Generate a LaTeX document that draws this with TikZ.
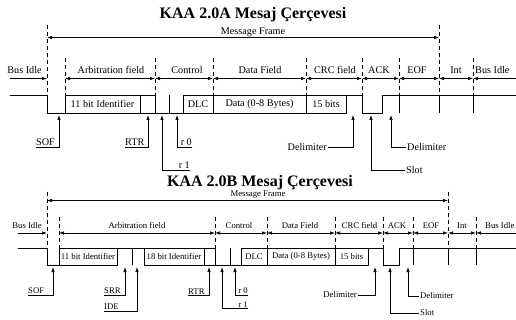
\documentclass[tikz,border=0pt]{standalone}
\usepackage{fontspec}
\setmainfont{Liberation Serif}
\usetikzlibrary{arrows.meta}
\begin{document}
\begin{tikzpicture}[x=1pt,y=-1pt,
  sig/.style={line width=0.8pt, black},
  dsh/.style={line width=0.7pt, black, dash pattern=on 4pt off 3pt},
  fld/.style={line width=0.7pt, {Latex[length=5pt,width=3.5pt]}-{Latex[length=5pt,width=3.5pt]}},
  fldend/.style={line width=0.7pt, -{Latex[length=5pt,width=3.5pt]}},
  fldstart/.style={line width=0.7pt, {Latex[length=5pt,width=3.5pt]}-},
  ptr/.style={line width=0.7pt, -{Latex[length=5pt,width=3.5pt]}},
  ta/.style={font=\fontsize{10.2}{12}\selectfont, inner xsep=0pt, inner ysep=0.8pt},
  tb/.style={font=\fontsize{8.7}{10}\selectfont, inner xsep=0pt, inner ysep=0.8pt},
  ttl/.style={font=\fontsize{16}{19}\selectfont\bfseries, inner sep=0pt}]
\useasboundingbox (0,0) rectangle (516,320);

% ===================== 2.0A =====================
\node[ttl, anchor=base] (titleA) at (253,18.5) {KAA 2.0A Mesaj Çerçevesi};

% message frame
\coordinate (mfA1) at (47,37.5);
\coordinate (mfA2) at (439,37.5);
\draw[fld] (mfA1) -- (mfA2);
\node[ta, anchor=base] (mfAt) at (253,34.5) {Message Frame};

% dashed boundaries
\draw[dsh] (47,25) -- (47,95);
\draw[dsh] (439,25) -- (439,95);
\foreach \x in {65,155,213,306,362,399,473} \draw[dsh] (\x,58) -- (\x,95);

% field arrows
\coordinate (fA0) at (10,78.5);
\coordinate (fA1) at (47,78.5);
\coordinate (fA2) at (65,78.5);
\coordinate (fA3) at (155,78.5);
\coordinate (fA4) at (213,78.5);
\coordinate (fA5) at (306,78.5);
\coordinate (fA6) at (362,78.5);
\coordinate (fA7) at (399,78.5);
\coordinate (fA8) at (439,78.5);
\coordinate (fA9) at (473,78.5);
\coordinate (fA10) at (516,78.5);
\draw[fldend] (fA0) -- (fA1);
\draw[fld] (fA2) -- (fA3);
\draw[fld] (fA3) -- (fA4);
\draw[fld] (fA4) -- (fA5);
\draw[fld] (fA5) -- (fA6);
\draw[fld] (fA6) -- (fA7);
\draw[fld] (fA7) -- (fA8);
\draw[fld] (fA8) -- (fA9);
\draw[fldstart] (fA9) -- (fA10);

\node[ta, anchor=base] (lA0) at (24.5,74) {Bus Idle};
\node[ta, anchor=base] (lA1) at (111,74) {Arbitration field};
\node[ta, anchor=base] (lA2) at (187,74) {Control};
\node[ta, anchor=base] (lA3) at (260,74) {Data Field};
\node[ta, anchor=base] (lA4) at (335,74) {CRC field};
\node[ta, anchor=base] (lA5) at (379,74) {ACK};
\node[ta, anchor=base] (lA6) at (417,74) {EOF};
\node[ta, anchor=base] (lA7) at (456,74) {Int};
\node[ta, anchor=base west] (lA8) at (475,74) {Bus Idle};

% signal
\draw[sig] (10,95) -- (47,95) -- (47,113) -- (346,113) -- (346,95) -- (362,95)
  -- (362,113) -- (382,113) -- (382,95) -- (516,95);
\draw[sig] (65,95) -- (155,95);
\draw[sig] (183,95) -- (346,95);
\foreach \x in {65,140,155,169,183,213,306,399,439,473} \draw[sig] (\x,95) -- (\x,113);

\node[ta] (bA1) at (102.5,104) {11 bit Identifier};
\node[ta] (bA2) at (198,104) {DLC};
\node[ta] (bA3) at (259.5,104) {Data (0-8 Bytes)};
\node[ta] (bA4) at (326,104) {15 bits};

% pointers
\coordinate (tA1) at (59,115);
\coordinate (tA2) at (148,115);
\coordinate (tA3) at (162,115);
\coordinate (tA4) at (177,115);
\coordinate (tA5) at (353,115);
\coordinate (tA6) at (371,115);
\coordinate (tA7) at (391,115);
\node[ta, anchor=south west] (sofA) at (36,147) {SOF};
\node[ta, anchor=south west] (rtrA) at (125,147) {RTR};
\node[ta, anchor=south east] (r1A) at (190,170) {r 1};
\node[ta, anchor=south east] (r0A) at (192,147) {r 0};
\node[ta, anchor=east, inner xsep=1pt] (dlA1) at (328,147) {Delimiter};
\node[ta, anchor=west, inner xsep=1pt] (slotA) at (405,170) {Slot};
\node[ta, anchor=west, inner xsep=1pt] (dlA2) at (406,147) {Delimiter};
\draw[ptr] (sofA.south west) -| (tA1);
\draw[ptr] (rtrA.south west) -| (tA2);
\draw[ptr] (r1A.south east) -| (tA3);
\draw[ptr] (r0A.south east) -| (tA4);
\draw[ptr] (dlA1.east) -| (tA5);
\draw[ptr] (slotA.west) -| (tA6);
\draw[ptr] (dlA2.west) -| (tA7);

% ===================== 2.0B =====================
\node[ttl, anchor=base] (titleB) at (260,187) {KAA 2.0B Mesaj Çerçevesi};

\coordinate (mfB1) at (47,200.5);
\coordinate (mfB2) at (448,200.5);
\draw[fld] (mfB1) -- (mfB2);
\node[tb, anchor=base] (mfBt) at (258,197) {Message Frame};

\draw[dsh] (47,192) -- (47,248);
\draw[dsh] (448,192) -- (448,248);
\foreach \x in {59,215,267,335,383,413,476} \draw[dsh] (\x,217) -- (\x,248);

\coordinate (fB0) at (18,233);
\coordinate (fB1) at (47,233);
\coordinate (fB2) at (59,233);
\coordinate (fB3) at (215,233);
\coordinate (fB4) at (267,233);
\coordinate (fB5) at (335,233);
\coordinate (fB6) at (383,233);
\coordinate (fB7) at (413,233);
\coordinate (fB8) at (448,233);
\coordinate (fB9) at (476,233);
\coordinate (fB10) at (516,233);
\draw[fldend] (fB0) -- (fB1);
\draw[fld] (fB2) -- (fB3);
\draw[fld] (fB3) -- (fB4);
\draw[fld] (fB4) -- (fB5);
\draw[fld] (fB5) -- (fB6);
\draw[fld] (fB6) -- (fB7);
\draw[fld] (fB7) -- (fB8);
\draw[fld] (fB8) -- (fB9);
\draw[fldstart] (fB9) -- (fB10);

\node[tb, anchor=base] (lB0) at (27,229) {Bus Idle};
\node[tb, anchor=base] (lB1) at (137,229) {Arbitration field};
\node[tb, anchor=base] (lB2) at (239,229) {Control};
\node[tb, anchor=base] (lB3) at (300,229) {Data Field};
\node[tb, anchor=base] (lB4) at (359.5,229) {CRC field};
\node[tb, anchor=base] (lB5) at (397,229) {ACK};
\node[tb, anchor=base] (lB6) at (431,229) {EOF};
\node[tb, anchor=base] (lB7) at (462,229) {Int};
\node[tb, anchor=base west] (lB8) at (485,229) {Bus Idle};

\draw[sig] (18,248) -- (47,248) -- (47,265) -- (117,265) -- (117,248) -- (144,248)
  -- (144,265) -- (368,265) -- (368,248) -- (383,248) -- (383,265) -- (399,265)
  -- (399,248) -- (516,248);
\draw[sig] (59,248) -- (117,248);
\draw[sig] (144,248) -- (215,248);
\draw[sig] (241,248) -- (368,248);
\foreach \x in {59,132,204,215,230,241,267,335,413,448,476} \draw[sig] (\x,248) -- (\x,265);

\node[tb] (bB1) at (88,256.5) {11 bit Identifier};
\node[tb] (bB2) at (174,256.5) {18 bit Identifier};
\node[tb] (bB3) at (254,256.5) {DLC};
\node[tb] (bB4) at (301,256.5) {Data (0-8 Bytes)};
\node[tb] (bB5) at (351.5,256.5) {15 bits};

\coordinate (tB1) at (53,267);
\coordinate (tB2) at (125,267);
\coordinate (tB3) at (137,267);
\coordinate (tB4) at (209,267);
\coordinate (tB5) at (222,267);
\coordinate (tB6) at (235,267);
\coordinate (tB7) at (375,267);
\coordinate (tB8) at (390,267);
\coordinate (tB9) at (408,267);
\node[tb, anchor=south west] (sofB) at (28,295) {SOF};
\node[tb, anchor=south west] (srrB) at (104,295) {SRR};
\node[tb, anchor=south west] (ideB) at (104,311) {IDE};
\node[tb, anchor=south west] (rtrB) at (188,295) {RTR};
\node[tb, anchor=south east] (r1B) at (248,308) {r 1};
\node[tb, anchor=south east] (r0B) at (248,295) {r 0};
\node[tb, anchor=east, inner xsep=1pt] (dlB1) at (358,295) {Delimiter};
\node[tb, anchor=west, inner xsep=1pt] (slotB) at (419,313) {Slot};
\node[tb, anchor=west, inner xsep=1pt] (dlB2) at (419,296) {Delimiter};
\draw[ptr] (sofB.south west) -| (tB1);
\draw[ptr] (srrB.south west) -| (tB2);
\draw[ptr] (ideB.south west) -| (tB3);
\draw[ptr] (rtrB.south west) -| (tB4);
\draw[ptr] (r1B.south east) -| (tB5);
\draw[ptr] (r0B.south east) -| (tB6);
\draw[ptr] (dlB1.east) -| (tB7);
\draw[ptr] (slotB.west) -| (tB8);
\draw[ptr] (dlB2.west) -| (tB9);
\end{tikzpicture}
\end{document}
